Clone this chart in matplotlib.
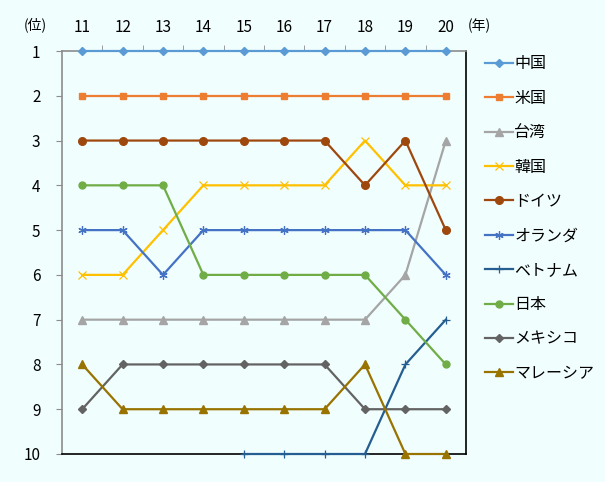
import matplotlib
matplotlib.use("Agg")
import matplotlib.pyplot as plt
import numpy as np

plt.rcParams['font.family'] = ['Noto Sans CJK JP', 'DejaVu Sans']

years = [11, 12, 13, 14, 15, 16, 17, 18, 19, 20]
nan = np.nan
series = {
    '中国':     [1, 1, 1, 1, 1, 1, 1, 1, 1, 1],
    '米国':     [2, 2, 2, 2, 2, 2, 2, 2, 2, 2],
    '台湾':     [7, 7, 7, 7, 7, 7, 7, 7, 6, 3],
    '韓国':     [6, 6, 5, 4, 4, 4, 4, 3, 4, 4],
    'ドイツ':   [3, 3, 3, 3, 3, 3, 3, 4, 3, 5],
    'オランダ': [5, 5, 6, 5, 5, 5, 5, 5, 5, 6],
    'ベトナム': [nan, nan, nan, nan, 10, 10, 10, 10, 8, 7],
    '日本':     [4, 4, 4, 6, 6, 6, 6, 6, 7, 8],
    'メキシコ': [9, 8, 8, 8, 8, 8, 8, 9, 9, 9],
    'マレーシア': [8, 9, 9, 9, 9, 9, 9, 8, 10, 10],
}
colors = ['#5B9BD5', '#ED7D31', '#A5A5A5', '#FFC000', '#9E480E',
          '#4472C4', '#255E91', '#70AD47', '#636363', '#997300']
markers = ['D', 's', '^', 'x', 'o', (6, 2, 0), '+', 'o', 'D', '^']
msizes = [4.5, 5, 5.5, 6, 5.5, 6, 6, 5, 4.5, 5.8]

bg = '#F1FEFE'
fig = plt.figure(figsize=(6.05, 4.82), dpi=100, facecolor=bg)
ax = fig.add_axes([62/605, 1-454/482, (466-62)/605, (454-51)/482])
ax.set_facecolor(bg)

for (name, vals), c, m, ms in zip(series.items(), colors, markers, msizes):
    thin = m in ('x', '+') or isinstance(m, tuple)
    ax.plot(years, vals, color=c, marker=m, markersize=ms, lw=1.6,
            markeredgewidth=0.9 if thin else 1,
            label=name, clip_on=False, zorder=3)

ax.set_xlim(10.5, 20.5)
ax.set_ylim(10, 1)
ax.xaxis.tick_top()
ax.set_xticks(years)
ax.set_xticklabels([str(y) for y in years])
ax.set_xticks(np.arange(11.5, 20.5, 1), minor=True)
ax.tick_params(axis='x', which='major', length=0, pad=11, labelsize=11)
ax.tick_params(axis='x', which='minor', length=4.5, color='#8C8C8C', direction='out')
ax.set_yticks(range(1, 11))
ax.tick_params(axis='y', length=4.5, color='#8C8C8C', labelsize=11, pad=11)

ax.spines['left'].set_color('#8C8C8C')
ax.spines['top'].set_color('#8C8C8C')
ax.spines['bottom'].set_color('black')
ax.spines['right'].set_color('black')
for s in ax.spines.values():
    s.set_linewidth(1.2)

fig.text(35/605, 1-25/482, '(位)', ha='center', va='center', fontsize=10)
fig.text(479/605, 1-26/482, '(年)', ha='center', va='center', fontsize=10)

leg = ax.legend(loc='upper left', bbox_to_anchor=(479/605, 1-49/482),
                bbox_transform=fig.transFigure, frameon=False,
                fontsize=11.5, handlelength=1.7, handletextpad=0.12,
                labelspacing=1.09, borderaxespad=0)

fig.savefig('out.png', dpi=100, facecolor=bg)
